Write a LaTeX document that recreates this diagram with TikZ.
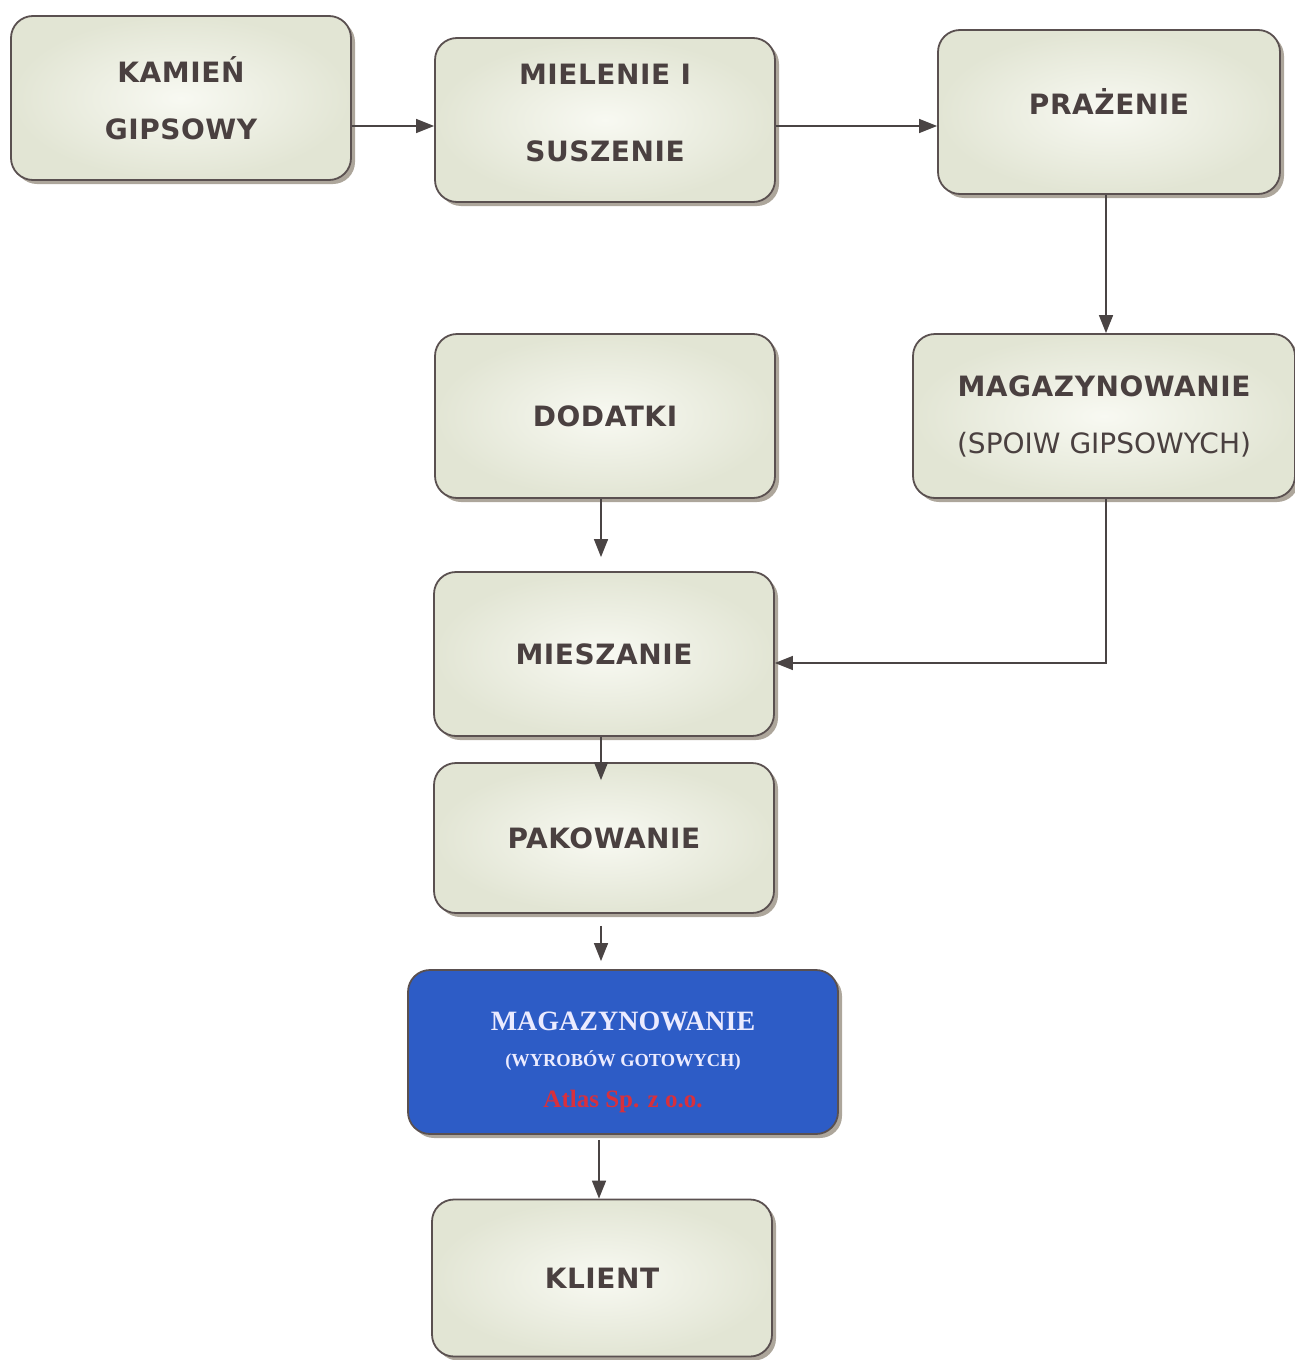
\documentclass[tikz,border=0pt]{standalone}
\usepackage{fontspec}
\usepackage{xcolor}
\usepackage{tikz}
\usetikzlibrary{arrows.meta,positioning,calc,shadows}

\newfontfamily\boxfont{DejaVu Sans}[BoldFeatures={LetterSpace=2}]
\newfontfamily\bluefont{Liberation Serif}
\definecolor{boxedge}{HTML}{5A5050}
\definecolor{boxtext}{HTML}{4A4040}
\definecolor{boxin}{HTML}{F8F9F2}
\definecolor{boxout}{HTML}{E2E5D4}
\definecolor{shadowc}{HTML}{8A8070}
\definecolor{bluefill}{HTML}{2D5CC6}
\definecolor{redtxt}{HTML}{D8303C}
\definecolor{arrc}{HTML}{4A4444}

\begin{document}
\begin{tikzpicture}[
  x=0.5pt, y=-0.5pt,
  box/.style={draw=boxedge, line width=0.9pt, rounded corners=11pt,
    inner color=boxin, outer color=boxout, text=boxtext, align=center,
    minimum width=170pt, minimum height=82pt, inner sep=0pt,
    font=\boxfont\fontsize{14}{16}\selectfont\bfseries,
    drop shadow={shadow xshift=2pt, shadow yshift=-2pt, fill=shadowc, opacity=0.7}},
  bluebox/.style={box, fill=bluefill, inner color=bluefill, outer color=bluefill,
    text=white!92!blue, font=\bluefont\bfseries},
  arr/.style={-{Triangle[length=9pt,width=7pt]}, line width=0.75pt, draw=arrc}
]
\useasboundingbox (0,0) rectangle (1295,1360);

% top row
\node[box] (kam) at (181,98) {KAMIEŃ\\[12.5pt]GIPSOWY};
\node[box] (miel) at (605,120) {MIELENIE I\\[22.5pt]SUSZENIE\\[-9pt]};
\node[box, minimum width=171pt] (praz) at (1109,112) {PRAŻENIE\\[-5pt]};

% middle
\node[box] (dod) at (605,416) {DODATKI};
\node[box, minimum width=191pt] (mag) at (1104,416)
  {MAGAZYNOWANIE\\[12.5pt]{\mdseries(SPOIW GIPSOWYCH)}};
\node[box] (mies) at (604,654) {MIESZANIE};
\node[box, minimum height=75pt] (pak) at (604,838) {PAKOWANIE};

% finished goods
\node[bluebox, minimum width=215pt] (wyr) at (623,1052)
  {\\[7.5pt]\fontsize{14}{16}\selectfont MAGAZYNOWANIE\\[6pt]
   \fontsize{9.2}{11}\selectfont (WYROBÓW GOTOWYCH)\\[8.5pt]
   \fontsize{12.5}{14}\selectfont\color{redtxt}Atlas Sp. z o.o.};
\node[box, minimum height=78.5pt] (kli) at (602,1278) {KLIENT};

% connectors
\draw[arr] ([yshift=-14pt]kam.east) coordinate (a1) -- (a1 -| miel.west);
\draw[arr] ([yshift=-3pt]miel.east) coordinate (a2) -- (a2 -| praz.west);
\draw[arr] ([xshift=-1.5pt]praz.south) coordinate (a3) -- (a3 |- mag.north);
\draw[arr, shorten >=7pt] ([xshift=-2pt]dod.south) coordinate (a4) -- (a4 |- mies.north);
\draw[arr] ([xshift=1pt]mag.south) |- ([yshift=-4.5pt]mies.east);
\draw[arr] ([xshift=-1.5pt]mies.south) coordinate (a5) -- ([yshift=-9pt]a5 |- pak.north);
\draw[arr, shorten <=6pt, shorten >=4pt] ([xshift=-1.5pt]pak.south) coordinate (a6) -- (a6 |- wyr.north);
\draw[arr, shorten <=2.5pt] ([xshift=-12pt]wyr.south) coordinate (a7) -- (a7 |- kli.north);
\end{tikzpicture}
\end{document}
